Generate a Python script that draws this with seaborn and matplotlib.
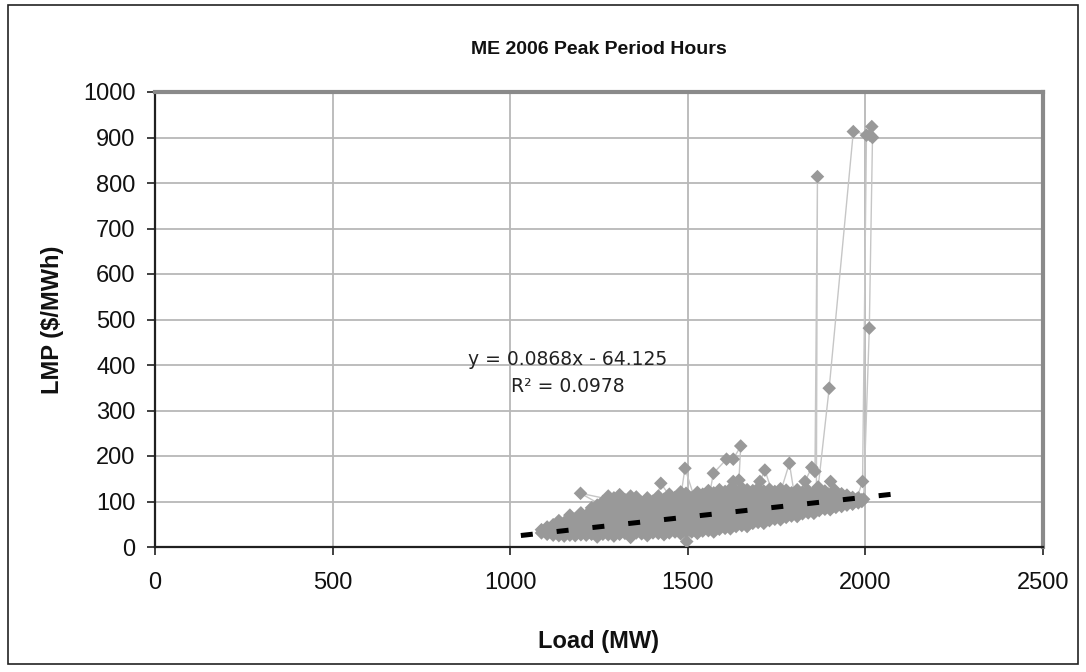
import matplotlib
matplotlib.use("Agg")
import numpy as np
import pandas as pd
import seaborn as sns
import matplotlib.pyplot as plt
from matplotlib.patches import Rectangle

# ---------------- data ----------------
TITLE = "ME 2006 Peak Period Hours"
X_LABEL = "Load (MW)"
Y_LABEL = "LMP ($/MWh)"
EQ_TEXT = "y = 0.0868x - 64.125"
R2_TEXT = "R\u00b2 = 0.0978"
TREND_SLOPE = 0.0868
TREND_INTERCEPT = -64.125
TREND_X = [1030, 2075]

x_ticks = [0, 500, 1000, 1500, 2000, 2500]
y_ticks = [0, 100, 200, 300, 400, 500, 600, 700, 800, 900, 1000]

# dense cloud of hourly points: load positions and the LMP values at them
cloud_load = [1088, 1104, 1121, 1137, 1152, 1168, 1183, 1199, 1214, 1229,
              1245, 1261, 1276, 1292, 1308, 1323, 1339, 1355, 1370, 1386,
              1402, 1417, 1433, 1448, 1464, 1480, 1495, 1511, 1527, 1542,
              1558, 1573, 1589, 1605, 1620, 1636, 1652, 1667, 1683, 1698,
              1714, 1730, 1745, 1761, 1777, 1792, 1808, 1823, 1839, 1855,
              1870, 1886, 1901, 1917, 1933, 1948, 1964, 1980, 1990]
cloud_lmp = [
    [31, 38], [28, 44, 33], [26, 45, 36, 49], [25, 38, 58, 31, 46],
    [24, 54, 35, 46, 29], [26, 41, 70, 52, 33, 60], [25, 62, 37, 50, 45, 30],
    [27, 75, 43, 56, 34, 64], [26, 70, 39, 52, 61, 31, 47],
    [28, 86, 44, 58, 35, 68, 51, 77], [22, 92, 40, 55, 69, 33, 80, 48],
    [28, 100, 43, 59, 74, 36, 86, 51, 66],
    [27, 112, 40, 56, 71, 87, 33, 63, 79, 47, 99],
    [24, 108, 45, 60, 77, 92, 36, 68, 84, 52],
    [28, 115, 42, 57, 73, 89, 34, 65, 101, 50, 81],
    [30, 104, 46, 62, 78, 94, 38, 70, 86, 54],
    [21, 112, 43, 58, 75, 91, 35, 67, 100, 51, 83],
    [31, 110, 47, 63, 79, 95, 39, 71, 87, 55],
    [29, 98, 44, 60, 76, 92, 36, 68, 84, 52],
    [25, 108, 46, 61, 78, 94, 38, 69, 86, 54],
    [31, 101, 45, 62, 77, 93, 37, 70, 85, 53],
    [30, 112, 47, 63, 80, 96, 39, 72, 88, 55],
    [27, 105, 46, 61, 79, 97, 38, 71, 89, 54],
    [31, 116, 48, 64, 81, 99, 40, 73, 90, 56, 106],
    [33, 109, 47, 62, 80, 101, 39, 72, 91, 55],
    [29, 121, 49, 65, 83, 104, 41, 74, 93, 57, 112],
    [34, 118, 48, 63, 82, 100, 40, 73, 92, 56, 109],
    [33, 108, 50, 66, 84, 102, 42, 75, 94, 58],
    [30, 120, 49, 64, 83, 103, 41, 74, 93, 57, 111],
    [35, 116, 51, 67, 85, 101, 43, 76, 95, 59],
    [36, 124, 52, 68, 86, 104, 44, 77, 96, 60, 114],
    [33, 119, 53, 69, 87, 105, 45, 78, 97, 61],
    [39, 126, 55, 70, 88, 106, 47, 79, 98, 62, 116],
    [41, 122, 56, 72, 89, 107, 49, 80, 99, 64],
    [40, 128, 58, 73, 90, 108, 51, 82, 100, 66, 118],
    [45, 124, 60, 75, 92, 110, 53, 83, 101, 68],
    [47, 130, 62, 77, 93, 111, 55, 85, 103, 70, 120],
    [45, 126, 63, 78, 95, 112, 57, 86, 104, 71],
    [52, 124, 66, 80, 96, 113, 59, 88, 105, 73],
    [54, 129, 68, 82, 98, 114, 61, 90, 106, 75, 119],
    [52, 123, 70, 84, 99, 113, 63, 91, 107, 77],
    [58, 127, 72, 86, 100, 114, 65, 93, 108, 79],
    [61, 122, 74, 88, 102, 113, 67, 95, 109, 81],
    [60, 128, 76, 89, 103, 115, 70, 96, 110, 83],
    [65, 125, 78, 91, 104, 114, 72, 97, 111, 85],
    [68, 119, 80, 93, 106, 113, 74, 99, 87],
    [67, 126, 82, 94, 107, 112, 76, 100, 89, 118],
    [73, 121, 85, 96, 108, 79, 102, 91],
    [75, 124, 87, 98, 109, 81, 103, 93, 115],
    [74, 120, 89, 100, 110, 84, 105, 95],
    [80, 118, 91, 102, 109, 86, 97],
    [83, 123, 93, 104, 111, 88, 99],
    [82, 116, 95, 106, 112, 90, 101],
    [87, 120, 97, 107, 111, 92, 102],
    [89, 117, 99, 108, 94, 104],
    [92, 114, 101, 107, 96],
    [94, 109, 100, 105],
    [97, 108, 102],
    [100, 104],
]

# price excursions (each one leaves the cloud and comes back)
spike_load = [
    [1257, 1198, 1290],
    [1410, 1424, 1460],
    [1480, 1492, 1520],
    [1470, 1497, 1520],
    [1560, 1572, 1609, 1628, 1649, 1644, 1628, 1600],
    [1690, 1703, 1717, 1740],
    [1760, 1786, 1800],
    [1830, 1849, 1858, 1865, 1862],
    [1867, 1898, 1966, 2013, 2018, 2020, 2011, 1995],
    [1890, 1902, 1914, 1930],
    [1975, 1992, 2003],
]
spike_lmp = [
    [92, 118, 103],
    [98, 140, 100],
    [110, 173, 105],
    [40, 12, 45],
    [110, 162, 193, 193, 222, 147, 144, 110],
    [115, 144, 169, 115],
    [118, 184, 115],
    [144, 175, 166, 814, 118],
    [132, 349, 913, 905, 924, 900, 481, 105],
    [110, 144, 125, 110],
    [105, 144, 905],
]

# ---------------- assemble ----------------
rows = []
for lx, ys in zip(cloud_load, cloud_lmp):
    for y in ys:
        rows.append(("cloud", lx, y))
for i, (lxs, lys) in enumerate(zip(spike_load, spike_lmp)):
    for lx, y in zip(lxs, lys):
        rows.append((f"s{i}", lx, y))
df = pd.DataFrame(rows, columns=["seg", "load", "lmp"])

trend = pd.DataFrame({"load": TREND_X})
trend["lmp"] = TREND_SLOPE * trend["load"] + TREND_INTERCEPT

# ---------------- style ----------------
sns.set_theme(style="white")
plt.rcParams["font.family"] = ["Liberation Sans", "DejaVu Sans"]

fig = plt.figure(figsize=(10.86, 6.72), dpi=100)
ax = fig.add_axes([155 / 1086, 1 - 547 / 672, (1043 - 155) / 1086, (547 - 92) / 672])

sns.lineplot(data=df, x="load", y="lmp", units="seg", estimator=None, sort=False,
             color="#c6c6c6", linewidth=1.0, ax=ax, zorder=2)
sns.scatterplot(data=df, x="load", y="lmp", marker="D", s=48, color="#999999",
                edgecolor="none", linewidth=0, ax=ax, zorder=3)
sns.lineplot(data=trend, x="load", y="lmp", color="black", linewidth=3.6, ax=ax, zorder=4)
tl = ax.lines[-1]
tl.set_dashes([2.4, 4.8])
tl.set_dash_capstyle("butt")

ax.set_xlim(0, 2500)
ax.set_ylim(0, 1000)
ax.set_xticks(x_ticks)
ax.set_yticks(y_ticks)
ax.grid(True, color="#b8b8b8", linewidth=1.3)
ax.set_axisbelow(True)

for s in ["left", "bottom"]:
    ax.spines[s].set_color("#202020")
    ax.spines[s].set_linewidth(1.6)
for s in ["top", "right"]:
    ax.spines[s].set_color("#8a8a8a")
    ax.spines[s].set_linewidth(3.0)

ax.tick_params(axis="both", which="major", bottom=True, left=True, direction="out",
               length=6, width=1.2, color="#202020", labelsize=17, labelcolor="#111111")
ax.tick_params(axis="x", pad=12)
ax.tick_params(axis="y", pad=8)

ax.set_xlabel(X_LABEL, fontsize=17, fontweight="bold", labelpad=26, color="#111111")
ax.set_ylabel(Y_LABEL, fontsize=17, fontweight="bold", labelpad=14, color="#111111")
ax.set_title(TITLE, fontsize=14, fontweight="bold", pad=27, color="#111111")

ax.text(1163, 413, EQ_TEXT, ha="center", va="center", fontsize=13.5,
        family=["DejaVu Sans"], color="#222222", zorder=5)
ax.text(1163, 352, R2_TEXT, ha="center", va="center", fontsize=13.5,
        family=["DejaVu Sans"], color="#222222", zorder=5)

fig.patches.append(Rectangle((8 / 1086, 1 - 664 / 672), (1078 - 8) / 1086, (664 - 5) / 672,
                             transform=fig.transFigure, fill=False, edgecolor="#222222",
                             linewidth=1.2))

fig.savefig("out.png", dpi=100)
